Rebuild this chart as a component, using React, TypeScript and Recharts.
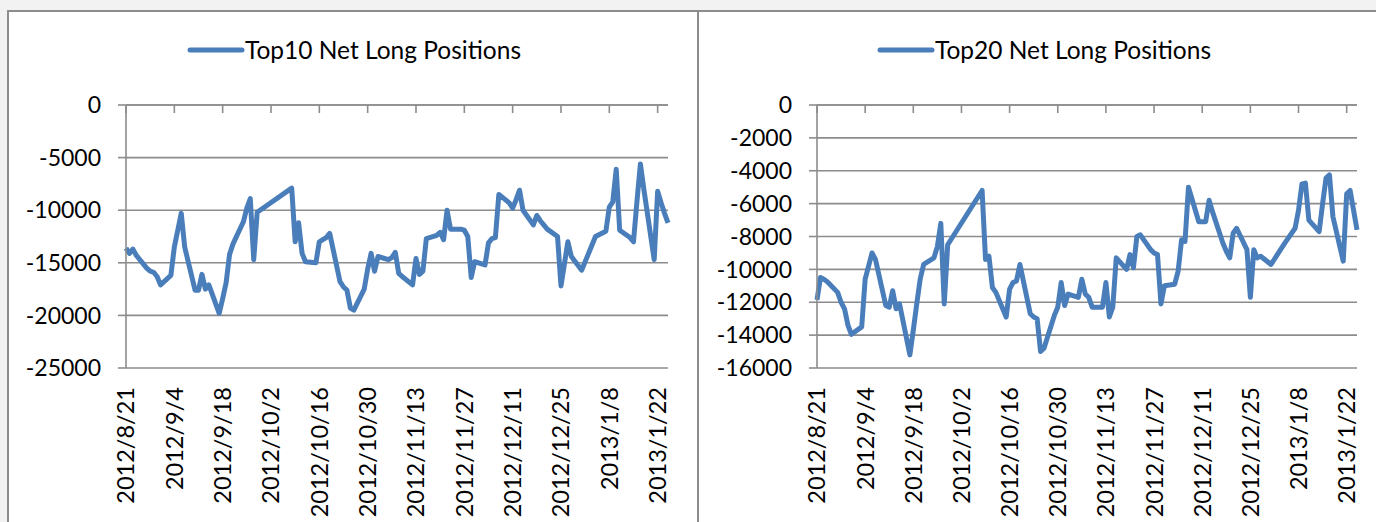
import { LineChart, Line, XAxis, YAxis, CartesianGrid, Legend } from 'recharts';

// trading days, 2012/8/21 – 2013/1/25
const dates = [
  '2012/8/21', '2012/8/22', '2012/8/23', '2012/8/24', '2012/8/27', '2012/8/28', '2012/8/29', '2012/8/30', '2012/8/31',
  '2012/9/3', '2012/9/4', '2012/9/5', '2012/9/6', '2012/9/7', '2012/9/10', '2012/9/11', '2012/9/12', '2012/9/13', '2012/9/14',
  '2012/9/17', '2012/9/18', '2012/9/19', '2012/9/20', '2012/9/21', '2012/9/24', '2012/9/25', '2012/9/26', '2012/9/27', '2012/9/28',
  '2012/10/8', '2012/10/9', '2012/10/10', '2012/10/11', '2012/10/12', '2012/10/15', '2012/10/16', '2012/10/17', '2012/10/18', '2012/10/19',
  '2012/10/22', '2012/10/23', '2012/10/24', '2012/10/25', '2012/10/26', '2012/10/29', '2012/10/30', '2012/10/31',
  '2012/11/1', '2012/11/2', '2012/11/5', '2012/11/6', '2012/11/7', '2012/11/8', '2012/11/9', '2012/11/12', '2012/11/13', '2012/11/14',
  '2012/11/15', '2012/11/16', '2012/11/19', '2012/11/20', '2012/11/21', '2012/11/22', '2012/11/23', '2012/11/26', '2012/11/27', '2012/11/28',
  '2012/11/29', '2012/11/30',
  '2012/12/3', '2012/12/4', '2012/12/5', '2012/12/6', '2012/12/7', '2012/12/10', '2012/12/11', '2012/12/12', '2012/12/13', '2012/12/14',
  '2012/12/17', '2012/12/18', '2012/12/19', '2012/12/20', '2012/12/21', '2012/12/24', '2012/12/25', '2012/12/26', '2012/12/27', '2012/12/28',
  '2012/12/31',
  '2013/1/4', '2013/1/7', '2013/1/8', '2013/1/9', '2013/1/10', '2013/1/11', '2013/1/14', '2013/1/15', '2013/1/16', '2013/1/17', '2013/1/18',
  '2013/1/21', '2013/1/22', '2013/1/23', '2013/1/24', '2013/1/25',
];

const top10 = [
  -13600, -14100, -13700, -14300, -15500, -15800, -15900, -16300, -17100,
  -16200, -13500, -11900, -10300, -13500, -17600, -17600, -16100, -17500, -17100,
  -19800, -18400, -16900, -14200, -13200, -11100, -9800, -8900, -14700, -10200,
  -7900, -13000, -11200, -14100, -14900, -15000, -13000, -12800, -12600, -12200,
  -16800, -17300, -17600, -19300, -19500, -17500, -15600, -14100,
  -15800, -14400, -14700, -14500, -14000, -16000, -16300, -17100, -14600, -16100,
  -15800, -12700, -12400, -12100, -12800, -10000, -11800, -11800, -11900, -12500,
  -16400, -14900,
  -15200, -13100, -12700, -12600, -8500, -9300, -9800, -9000, -8100, -10000,
  -11400, -10500, -11000, -11400, -11800, -12500, -17200, -15100, -13000, -14400,
  -15700,
  -12500, -12000, -9700, -9200, -6100, -11900, -12600, -13000, -9200, -5600, -8000,
  -14700, -8200, -9300, -10300, -11200,
];

const top20 = [
  -11850, -10500, -10600, -10750, -11400, -12000, -12400, -13400, -13950,
  -13500, -10600, -9800, -9000, -9400, -12200, -12300, -11300, -12400, -12100,
  -15200, -13700, -12100, -10600, -9700, -9300, -8600, -7200, -12100, -8500,
  -5200, -9400, -9200, -11100, -11400, -12900, -11200, -10800, -10700, -9700,
  -12700, -12900, -13000, -15000, -14800, -12800, -12300, -10800,
  -12200, -11500, -11700, -10600, -11500, -11700, -12300, -12300, -10800, -12900,
  -12300, -9300, -10000, -9100, -9900, -8000, -7900, -8800, -9000, -9100,
  -12100, -11000,
  -10900, -10100, -8200, -8300, -5000, -7100, -7100, -7100, -5800, -6500,
  -8400, -8900, -9300, -7800, -7500, -8800, -11700, -8800, -9300, -9200,
  -9700,
  -8400, -7500, -6400, -4800, -4750, -7000, -7700, -6000, -4450, -4250, -6800,
  -9500, -5400, -5200, -6400, -7600,
];

const dateTicks = [
  '2012/8/21', '2012/9/4', '2012/9/18', '2012/10/2', '2012/10/16', '2012/10/30',
  '2012/11/13', '2012/11/27', '2012/12/11', '2012/12/25', '2013/1/8', '2013/1/22',
];
const top10Ticks = [0, -5000, -10000, -15000, -20000, -25000];
const top20Ticks = [0, -2000, -4000, -6000, -8000, -10000, -12000, -14000, -16000];

const FONT = 'Lato, "DejaVu Sans", sans-serif';
const LEGEND_SIZE = 24.5;
const X_SIZE = 23.5;
const Y_SIZE = 23;
const BLUE = '#4a7ebb';
const GRID = '#8c8c8c';

function dayOf(s: string) {
  const [y, m, d] = s.split('/').map(Number);
  return Math.round((Date.UTC(y, m - 1, d) - Date.UTC(2012, 7, 21)) / 86400000);
}

const tickDays = dateTicks.map(dayOf);
const lastDay = dayOf(dates[dates.length - 1]);

function DateTick(props: any) {
  const { x, y, payload } = props;
  const label = dateTicks[tickDays.indexOf(payload.value)];
  return (
    <text
      x={x}
      y={y}
      transform={`rotate(-90, ${x}, ${y})`}
      textAnchor="end"
      dy="0.36em"
      fontSize={X_SIZE}
      fontFamily={FONT}
      fill="#000"
    >
      {label}
    </text>
  );
}

function NoTick() {
  return null;
}

function LegendContent(props: any) {
  const item = props.payload && props.payload[0];
  if (!item) return null;
  return (
    <div style={{ display: 'flex', alignItems: 'center', fontFamily: FONT, fontSize: LEGEND_SIZE, color: '#000', whiteSpace: 'nowrap' }}>
      <svg width={58} height={10} style={{ display: 'block' }}>
        <line x1={3} y1={5} x2={55} y2={5} stroke={item.color} strokeWidth={5} strokeLinecap="round" />
      </svg>
      <span>{item.value}</span>
    </div>
  );
}

interface PanelProps {
  name: string;
  values: number[];
  yTicks: number[];
  left: number;
  width: number;
  marginLeft: number;
  marginRight: number;
  legendLeft: number;
}

function PositionsChart({ name, values, yTicks, left, width, marginLeft, marginRight, legendLeft }: PanelProps) {
  const data = dates.map((d, i) => ({ day: dayOf(d), value: values[i] }));
  const yMin = Math.min(...yTicks);
  return (
    <div style={{ position: 'absolute', left, top: 0 }}>
      <LineChart width={width} height={522} data={data} margin={{ top: 105, right: marginRight, bottom: 4, left: marginLeft }}>
        <CartesianGrid vertical={false} stroke={GRID} strokeWidth={1.6} />
        <XAxis
          xAxisId="top"
          orientation="top"
          mirror
          dataKey="day"
          type="number"
          domain={[0, lastDay]}
          ticks={tickDays}
          interval={0}
          tick={<NoTick />}
          tickSize={8}
          stroke={GRID}
          strokeWidth={1.6}
        />
        <XAxis
          dataKey="day"
          type="number"
          domain={[0, lastDay]}
          ticks={tickDays}
          interval={0}
          axisLine={false}
          tickLine={false}
          tickSize={0}
          tickMargin={19}
          height={150}
          tick={<DateTick />}
        />
        <YAxis
          domain={[yMin, 0]}
          ticks={yTicks}
          interval={0}
          width={100}
          tickSize={8}
          tickMargin={17}
          stroke={GRID}
          strokeWidth={1.6}
          tick={{ fill: '#000', fontSize: Y_SIZE, fontFamily: FONT }}
        />
        <Legend
          verticalAlign="middle"
          align="center"
          layout="horizontal"
          content={<LegendContent />}
          wrapperStyle={{ top: 35, left: legendLeft, width: 'auto' }}
        />
        <Line
          type="linear"
          dataKey="value"
          name={name}
          stroke={BLUE}
          strokeWidth={5}
          strokeLinejoin="round"
          dot={false}
          activeDot={false}
          isAnimationActive={false}
        />
      </LineChart>
    </div>
  );
}

export default function App() {
  return (
    <div style={{ position: 'absolute', left: 0, top: 0, width: 1376, height: 522, overflow: 'hidden', background: '#f2f2f2' }}>
      <div style={{ position: 'absolute', left: 7, top: 10, width: 692, height: 600, boxSizing: 'border-box', border: `2px solid ${GRID}`, background: '#fff' }} />
      <div style={{ position: 'absolute', left: 697, top: 10, width: 800, height: 600, boxSizing: 'border-box', border: `2px solid ${GRID}`, background: '#fff' }} />
      <PositionsChart
        name="Top10 Net Long Positions"
        values={top10}
        yTicks={top10Ticks}
        left={0}
        width={698}
        marginLeft={26}
        marginRight={30}
        legendLeft={187}
      />
      <PositionsChart
        name="Top20 Net Long Positions"
        values={top20}
        yTicks={top20Ticks}
        left={698}
        width={678}
        marginLeft={19}
        marginRight={19}
        legendLeft={179}
      />
    </div>
  );
}
